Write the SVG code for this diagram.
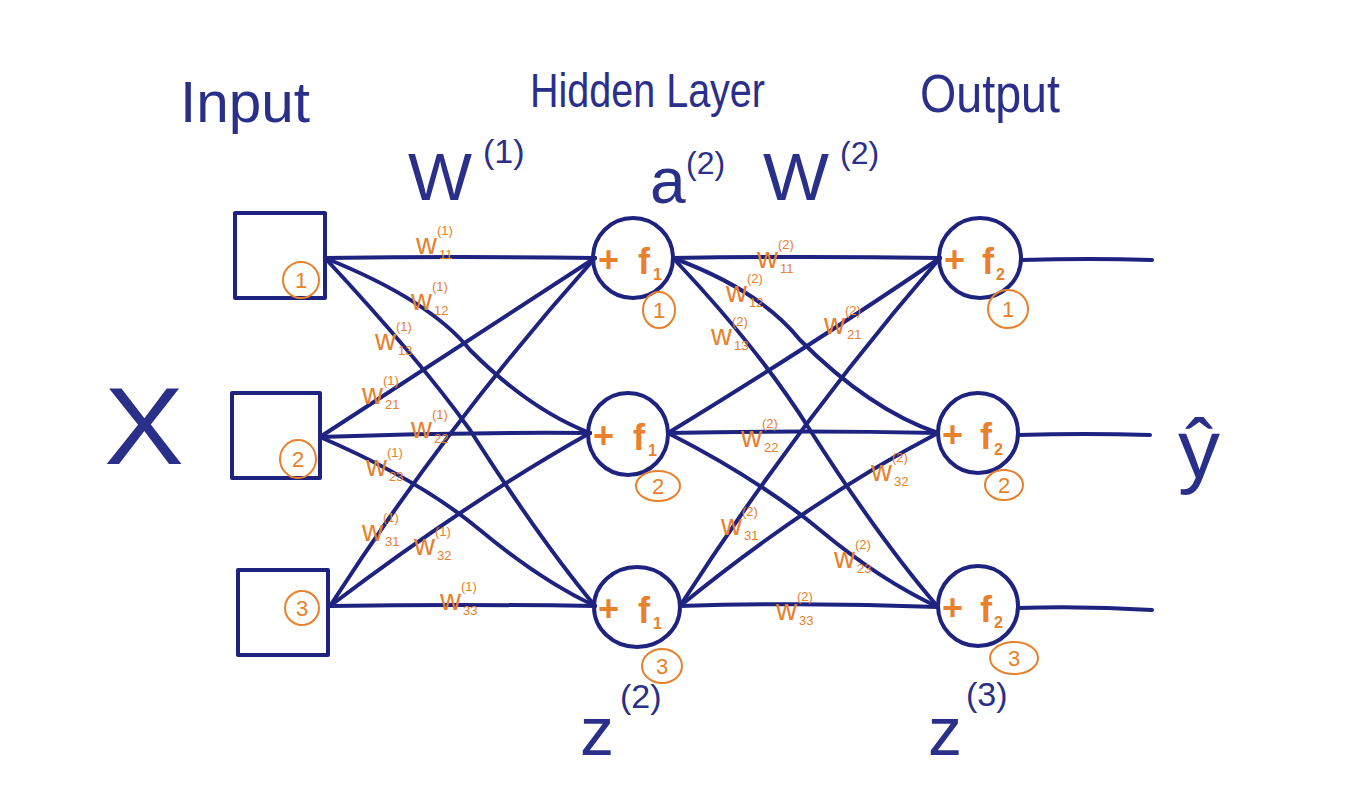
<svg xmlns="http://www.w3.org/2000/svg" width="1348" height="801" viewBox="0 0 1348 801">
<style>
.nv{fill:none;stroke:#1f2380;stroke-width:4;stroke-linecap:round;stroke-linejoin:round}
.nt{fill:#2a2f8a;font-family:"Liberation Sans",Arial,sans-serif}
.ot{fill:#e8802c;font-family:"Liberation Sans",Arial,sans-serif}
.oc{fill:none;stroke:#e8802c;stroke-width:2}
.w{font-size:29px}
.ws{font-size:13px}
.op{font-size:36px;font-weight:bold}
</style>
<rect width="1348" height="801" fill="#ffffff"/>
<g id="titles">
<text class="nt" x="180" y="122" font-size="58" textLength="130" lengthAdjust="spacingAndGlyphs">Input</text>
<text class="nt" x="530" y="107" font-size="48" textLength="235" lengthAdjust="spacingAndGlyphs">Hidden Layer</text>
<text class="nt" x="920" y="112" font-size="54" textLength="140" lengthAdjust="spacingAndGlyphs">Output</text>
<text class="nt" x="408" y="200" font-size="66" textLength="64" lengthAdjust="spacingAndGlyphs">W</text>
<text class="nt" x="483" y="163" font-size="34">(1)</text>
<text class="nt" x="650" y="203" font-size="64">a</text>
<text class="nt" x="686" y="174" font-size="32">(2)</text>
<text class="nt" x="763" y="200" font-size="66" textLength="66" lengthAdjust="spacingAndGlyphs">W</text>
<text class="nt" x="840" y="164" font-size="32">(2)</text>
<text class="nt" x="104" y="464" font-size="110" textLength="80" lengthAdjust="spacingAndGlyphs">X</text>
<text class="nt" x="1178" y="478" font-size="84">ŷ</text>
<text class="nt" x="580" y="755" font-size="68">z</text>
<text class="nt" x="620" y="708" font-size="34">(2)</text>
<text class="nt" x="928" y="755" font-size="68">z</text>
<text class="nt" x="966" y="706" font-size="34">(3)</text>
</g>
<g id="connectors">
<path class="nv" d="M325,258 Q460,256 595,258"/>
<path class="nv" d="M325,258 Q430,300 470,350 Q530,410 590,433"/>
<path class="nv" d="M325,258 Q420,360 470,430 Q540,540 595,606"/>
<path class="nv" d="M320,437 Q470,340 595,258"/>
<path class="nv" d="M320,437 Q455,432 590,433"/>
<path class="nv" d="M320,437 Q420,480 480,530 Q540,580 595,606"/>
<path class="nv" d="M330,606 Q450,420 595,258"/>
<path class="nv" d="M330,606 Q470,500 590,433"/>
<path class="nv" d="M330,606 Q460,604 595,606"/>
<path class="nv" d="M673,258 Q806,256 940,258"/>
<path class="nv" d="M673,258 Q760,290 800,340 Q870,410 938,433"/>
<path class="nv" d="M673,258 Q760,350 810,430 Q880,540 938,607"/>
<path class="nv" d="M668,433 Q820,340 940,258"/>
<path class="nv" d="M668,433 Q803,430 938,433"/>
<path class="nv" d="M668,433 Q760,480 820,530 Q880,580 938,607"/>
<path class="nv" d="M680,606 Q800,420 940,258"/>
<path class="nv" d="M680,606 Q810,500 938,433"/>
<path class="nv" d="M680,606 Q810,602 938,607"/>
<path class="nv" d="M1022,260 Q1090,258 1152,260"/>
<path class="nv" d="M1018,435 Q1085,433 1150,435"/>
<path class="nv" d="M1018,608 Q1085,606 1152,610"/>
</g>
<g id="weights" class="ot">
<g transform="translate(416,254)"><text class="w">w</text><text class="ws" x="21" y="-19">(1)</text><text class="ws" x="23" y="5">11</text></g>
<g transform="translate(411,310)"><text class="w">w</text><text class="ws" x="21" y="-19">(1)</text><text class="ws" x="23" y="5">12</text></g>
<g transform="translate(375,350)"><text class="w">w</text><text class="ws" x="21" y="-19">(1)</text><text class="ws" x="23" y="5">13</text></g>
<g transform="translate(362,404)"><text class="w">w</text><text class="ws" x="21" y="-19">(1)</text><text class="ws" x="23" y="5">21</text></g>
<g transform="translate(411,438)"><text class="w">w</text><text class="ws" x="21" y="-19">(1)</text><text class="ws" x="23" y="5">22</text></g>
<g transform="translate(366,476)"><text class="w">w</text><text class="ws" x="21" y="-19">(1)</text><text class="ws" x="23" y="5">23</text></g>
<g transform="translate(362,541)"><text class="w">w</text><text class="ws" x="21" y="-19">(1)</text><text class="ws" x="23" y="5">31</text></g>
<g transform="translate(414,555)"><text class="w">w</text><text class="ws" x="21" y="-19">(1)</text><text class="ws" x="23" y="5">32</text></g>
<g transform="translate(440,610)"><text class="w">w</text><text class="ws" x="21" y="-19">(1)</text><text class="ws" x="23" y="5">33</text></g>
<g transform="translate(757,268)"><text class="w">w</text><text class="ws" x="21" y="-19">(2)</text><text class="ws" x="23" y="5">11</text></g>
<g transform="translate(726,302)"><text class="w">w</text><text class="ws" x="21" y="-19">(2)</text><text class="ws" x="23" y="5">12</text></g>
<g transform="translate(711,345)"><text class="w">w</text><text class="ws" x="21" y="-19">(2)</text><text class="ws" x="23" y="5">13</text></g>
<g transform="translate(824,334)"><text class="w">w</text><text class="ws" x="21" y="-19">(2)</text><text class="ws" x="23" y="5">21</text></g>
<g transform="translate(741,447)"><text class="w">w</text><text class="ws" x="21" y="-19">(2)</text><text class="ws" x="23" y="5">22</text></g>
<g transform="translate(871,481)"><text class="w">w</text><text class="ws" x="21" y="-19">(2)</text><text class="ws" x="23" y="5">32</text></g>
<g transform="translate(721,535)"><text class="w">w</text><text class="ws" x="21" y="-19">(2)</text><text class="ws" x="23" y="5">31</text></g>
<g transform="translate(834,568)"><text class="w">w</text><text class="ws" x="21" y="-19">(2)</text><text class="ws" x="23" y="5">23</text></g>
<g transform="translate(776,620)"><text class="w">w</text><text class="ws" x="21" y="-19">(2)</text><text class="ws" x="23" y="5">33</text></g>
</g>
<g id="input1"><rect class="nv" x="235" y="213" width="90" height="85"/><ellipse class="oc" cx="301" cy="280" rx="18" ry="18"/><text class="ot" x="301" y="288" font-size="22" text-anchor="middle">1</text></g>
<g id="input2"><rect class="nv" x="232" y="393" width="88" height="85"/><ellipse class="oc" cx="298" cy="459" rx="18" ry="19"/><text class="ot" x="298" y="467" font-size="22" text-anchor="middle">2</text></g>
<g id="input3"><rect class="nv" x="238" y="570" width="90" height="85"/><ellipse class="oc" cx="302" cy="608" rx="17" ry="17"/><text class="ot" x="302" y="616" font-size="22" text-anchor="middle">3</text></g>
<g id="hidden1"><ellipse class="nv" cx="633" cy="258" rx="40" ry="40"/><text class="ot op" x="598" y="272">+</text><text class="ot op" x="638" y="274">f</text><text class="ot" x="653" y="280" font-size="16" font-weight="bold">1</text><ellipse class="oc" cx="659" cy="310" rx="16" ry="18"/><text class="ot" x="659" y="318" font-size="22" text-anchor="middle">1</text></g>
<g id="hidden2"><ellipse class="nv" cx="628" cy="434" rx="40" ry="41"/><text class="ot op" x="593" y="448">+</text><text class="ot op" x="633" y="450">f</text><text class="ot" x="648" y="456" font-size="16" font-weight="bold">1</text><ellipse class="oc" cx="658" cy="486" rx="22" ry="15"/><text class="ot" x="658" y="494" font-size="22" text-anchor="middle">2</text></g>
<g id="hidden3"><ellipse class="nv" cx="637" cy="607" rx="43" ry="40"/><text class="ot op" x="598" y="621">+</text><text class="ot op" x="638" y="623">f</text><text class="ot" x="653" y="629" font-size="16" font-weight="bold">1</text><ellipse class="oc" cx="662" cy="666" rx="20" ry="17"/><text class="ot" x="662" y="674" font-size="22" text-anchor="middle">3</text></g>
<g id="output1"><ellipse class="nv" cx="980" cy="258" rx="41" ry="40"/><text class="ot op" x="944" y="272">+</text><text class="ot op" x="982" y="274">f</text><text class="ot" x="996" y="280" font-size="16" font-weight="bold">2</text><ellipse class="oc" cx="1008" cy="309" rx="20" ry="19"/><text class="ot" x="1008" y="317" font-size="22" text-anchor="middle">1</text></g>
<g id="output2"><ellipse class="nv" cx="978" cy="433" rx="40" ry="40"/><text class="ot op" x="942" y="447">+</text><text class="ot op" x="980" y="449">f</text><text class="ot" x="994" y="455" font-size="16" font-weight="bold">2</text><ellipse class="oc" cx="1004" cy="485" rx="19" ry="15"/><text class="ot" x="1004" y="493" font-size="22" text-anchor="middle">2</text></g>
<g id="output3"><ellipse class="nv" cx="978" cy="606" rx="40" ry="40"/><text class="ot op" x="942" y="620">+</text><text class="ot op" x="980" y="622">f</text><text class="ot" x="994" y="628" font-size="16" font-weight="bold">2</text><ellipse class="oc" cx="1014" cy="658" rx="24" ry="16"/><text class="ot" x="1014" y="666" font-size="22" text-anchor="middle">3</text></g>
</svg>
